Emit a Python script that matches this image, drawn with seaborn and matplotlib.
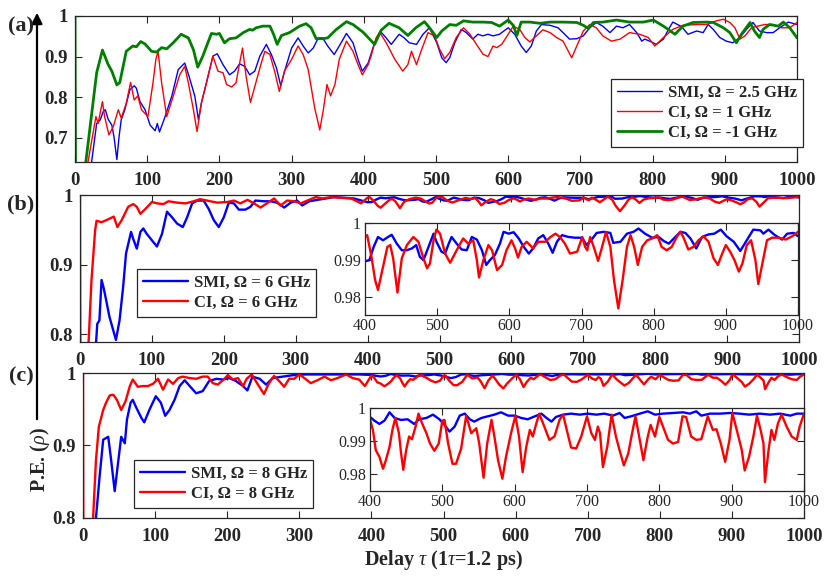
import numpy as np
import pandas as pd
import seaborn as sns
import matplotlib.pyplot as plt
from matplotlib.patches import FancyArrowPatch

# ---- panel (a) ----
a_green_t = [0, 1, 15, 30, 38, 46, 51, 58, 62, 71, 80, 85, 91, 97, 106, 113, 120, 127, 136, 147,
             157, 164, 170, 177, 184, 189, 196, 200, 207, 214, 223, 233, 242, 246, 251, 260, 270, 275, 280, 286,
             297, 311, 320, 327, 334, 343, 350, 362, 376, 385, 399, 415, 424, 435, 449, 461, 472, 484,
             491, 501, 508, 519, 528, 538, 551, 565, 577, 588, 600, 607, 612, 618, 630, 644, 658, 676, 695, 704,
             711, 718, 731, 750, 768, 787, 801, 815, 831, 842, 856, 875, 884, 898, 907, 916, 923, 935, 941, 948,
             953, 962, 974, 981, 990, 1000]
a_green = [1.0, 0.5, 0.64, 0.86, 0.916, 0.88, 0.864, 0.83, 0.836, 0.913, 0.926, 0.924, 0.937, 0.931, 0.913, 0.911, 0.922, 0.919, 0.934, 0.955,
           0.946, 0.917, 0.874, 0.901, 0.934, 0.957, 0.955, 0.957, 0.934, 0.944, 0.946, 0.959, 0.967, 0.965, 0.971, 0.975, 0.975, 0.955, 0.930, 0.952,
           0.959, 0.975, 0.981, 0.971, 0.944, 0.944, 0.946, 0.967, 0.986, 0.979, 0.960, 0.930, 0.965, 0.982, 0.971, 0.952, 0.971, 0.986,
           0.971, 0.947, 0.963, 0.979, 0.977, 0.988, 0.985, 0.985, 0.984, 0.975, 0.990, 0.977, 0.952, 0.985, 0.985, 0.982, 0.985, 0.985, 0.984, 0.977,
           0.969, 0.984, 0.985, 0.990, 0.985, 0.985, 0.990, 0.975, 0.955, 0.975, 0.984, 0.985, 0.984, 0.971, 0.959, 0.934, 0.955, 0.984, 0.963, 0.947,
           0.967, 0.979, 0.975, 0.985, 0.971, 0.946]

a_blue_t = [0, 23, 30, 35, 39, 42, 46, 51, 54, 58, 61, 64, 69, 76, 82, 85, 90, 97, 104, 111,
            114, 117, 124, 134, 143, 152, 158, 166, 171, 175, 182, 191, 197, 205, 214, 221, 228, 235, 242, 249,
            256, 265, 272, 279, 285, 291, 300, 309, 316, 323, 330, 337, 343, 350, 359, 366, 376, 385, 393, 398,
            406, 415, 424, 431, 438, 449, 456, 463, 473, 482,
            491, 501, 508, 514, 519, 526, 535, 542, 551, 558, 565, 572, 579, 588, 600, 609, 618, 625, 632, 639,
            646, 658, 669, 676, 685, 695, 704, 713, 722, 731, 741, 750, 759, 768, 778, 785, 789, 796, 805, 815,
            822, 828, 840, 849, 861, 870, 877, 884, 893, 902, 911, 921, 930, 939, 948, 958, 967, 976, 988, 1000]
a_blue = [0.4, 0.64, 0.735, 0.744, 0.764, 0.769, 0.745, 0.731, 0.702, 0.646, 0.702, 0.744, 0.769, 0.818, 0.828, 0.822, 0.789, 0.769, 0.731, 0.717,
          0.735, 0.714, 0.748, 0.802, 0.868, 0.884, 0.851, 0.802, 0.744, 0.785, 0.835, 0.901, 0.907, 0.880, 0.855, 0.864, 0.882, 0.876, 0.855, 0.864,
          0.901, 0.930, 0.905, 0.872, 0.828, 0.868, 0.921, 0.946, 0.926, 0.909, 0.921, 0.946, 0.946, 0.926, 0.905, 0.926, 0.957, 0.934, 0.888, 0.864,
          0.884, 0.934, 0.960, 0.946, 0.930, 0.955, 0.946, 0.934, 0.930, 0.955,
          0.971, 0.934, 0.897, 0.885, 0.897, 0.934, 0.967, 0.959, 0.943, 0.955, 0.951, 0.955, 0.951, 0.955, 0.971, 0.955, 0.926, 0.910, 0.926, 0.963,
          0.979, 0.977, 0.971, 0.959, 0.943, 0.944, 0.951, 0.971, 0.984, 0.975, 0.959, 0.975, 0.971, 0.979, 0.959, 0.938, 0.943, 0.938, 0.930, 0.943,
          0.967, 0.985, 0.974, 0.955, 0.963, 0.959, 0.979, 0.967, 0.947, 0.938, 0.934, 0.947, 0.967, 0.984, 0.963, 0.959, 0.959, 0.971, 0.985, 0.979]

a_red_t = [0, 18, 29, 32, 38, 41, 47, 53, 60, 64, 71, 77, 82, 87, 92, 101, 108, 112, 115, 120,
           127, 136, 145, 152, 157, 164, 169, 175, 182, 191, 198, 205, 210, 217, 223, 228, 232, 237, 243, 251,
           258, 263, 270, 277, 283, 290, 300, 309, 316, 323, 332, 339, 344, 349, 354, 360, 366, 376, 385, 392,
           398, 406, 410, 417, 422, 431, 443, 454, 461, 466, 473, 480, 489,
           498, 505, 512, 519, 528, 538, 547, 556, 565, 572, 579, 584, 591, 600, 607, 616, 623, 630, 639, 648,
           658, 667, 676, 683, 688, 695, 704, 713, 722, 731, 743, 755, 768, 782, 794, 803, 815, 828, 842, 861,
           875, 888, 898, 907, 914, 921, 928, 937, 946, 955, 967, 978, 990, 1000]
a_red = [0.4, 0.64, 0.752, 0.735, 0.789, 0.752, 0.707, 0.727, 0.769, 0.748, 0.785, 0.836, 0.793, 0.803, 0.769, 0.752, 0.835, 0.893, 0.913, 0.835,
         0.752, 0.802, 0.855, 0.876, 0.835, 0.769, 0.715, 0.785, 0.835, 0.901, 0.864, 0.860, 0.831, 0.825, 0.835, 0.884, 0.921, 0.851, 0.787, 0.839,
         0.884, 0.913, 0.905, 0.860, 0.814, 0.864, 0.893, 0.926, 0.905, 0.868, 0.773, 0.719, 0.769, 0.831, 0.803, 0.831, 0.893, 0.938, 0.913, 0.880,
         0.855, 0.880, 0.901, 0.946, 0.960, 0.934, 0.893, 0.864, 0.880, 0.913, 0.880, 0.917, 0.959,
         0.951, 0.918, 0.895, 0.910, 0.947, 0.971, 0.955, 0.930, 0.906, 0.900, 0.926, 0.922, 0.930, 0.955, 0.975, 0.967, 0.947, 0.936, 0.951, 0.966,
         0.959, 0.947, 0.938, 0.914, 0.897, 0.926, 0.963, 0.979, 0.971, 0.951, 0.938, 0.943, 0.959, 0.955, 0.947, 0.926, 0.947, 0.967, 0.977, 0.979,
         0.979, 0.988, 0.992, 0.984, 0.971, 0.943, 0.951, 0.971, 0.975, 0.979, 0.979, 0.971, 0.971, 0.984]

# ---- panel (b) ----
b_red_t = [0, 1, 12, 16, 21, 23, 30, 37, 47, 52, 58, 67, 74, 79, 84, 91, 100, 107, 116, 123,
           135, 147, 158, 167, 181, 191, 205, 214, 223, 233, 242, 251, 260, 270, 279, 288, 298, 307, 316, 328,
           337, 349, 363, 377, 391,
           400, 403, 409, 414, 418, 425, 431, 435, 439, 445, 451, 458, 467, 474, 481, 486, 490, 495, 499, 504,
           511, 518, 527, 536, 543, 550, 555, 558, 564, 571, 576, 583, 590, 596, 603, 608, 612, 617, 624, 633,
           640, 650, 657, 664, 670, 677, 684, 694, 701, 705, 708, 712, 717, 723, 728, 734, 740, 745, 751, 757,
           763, 768, 773, 778, 784, 791, 798, 805, 811, 818, 825, 832, 837, 841, 848, 855, 862, 869, 876, 883,
           889, 895, 900, 906, 912, 918, 923, 929, 935, 941, 945, 952, 957, 964, 973, 983, 992, 1000]
b_red = [1.0, 0.5, 0.79, 0.878, 0.949, 0.963, 0.961, 0.964, 0.969, 0.954, 0.964, 0.983, 0.987, 0.983, 0.973, 0.980, 0.990, 0.988, 0.987, 0.991,
         0.989, 0.988, 0.991, 0.994, 0.991, 0.989, 0.990, 0.992, 0.988, 0.993, 0.988, 0.982, 0.988, 0.995, 0.985, 0.992, 0.991, 0.988, 0.992, 0.997,
         0.995, 0.997, 0.996, 0.995, 0.988,
         0.9962, 0.9967, 0.9908, 0.9845, 0.9818, 0.9881, 0.9935, 0.9940, 0.9904, 0.9811, 0.9904, 0.9940, 0.9962, 0.9949, 0.9904, 0.9877, 0.9890, 0.9953, 0.9982, 0.9971,
         0.9917, 0.9892, 0.9926, 0.9958, 0.9944, 0.9953, 0.9899, 0.9852, 0.9899, 0.9940, 0.9926, 0.9872, 0.9886, 0.9926, 0.9953, 0.9931, 0.9906, 0.9935, 0.9949, 0.9931,
         0.9949, 0.9949, 0.9962, 0.9971, 0.9962, 0.9944, 0.9917, 0.9922, 0.9962, 0.9935, 0.9926, 0.9962, 0.9935, 0.9897, 0.9931, 0.9976, 0.9935, 0.9845, 0.9768, 0.9845,
         0.9935, 0.9967, 0.9935, 0.9886, 0.9935, 0.9953, 0.9958, 0.9967, 0.9935, 0.9926, 0.9935, 0.9962, 0.9976, 0.9962, 0.9928, 0.9935, 0.9953, 0.9964, 0.9949, 0.9904,
         0.9886, 0.9917, 0.9940, 0.9922, 0.9899, 0.9868, 0.9890, 0.9940, 0.9953, 0.9899, 0.9834, 0.9904, 0.9953, 0.9960, 0.9960, 0.9955, 0.9964, 0.9976]

b_blue_t = [0, 20, 24, 27, 30, 33, 36, 41, 47, 50, 55, 60, 64, 71, 74, 79, 84, 88, 93, 100,
            107, 114, 121, 128, 135, 143, 149, 156, 163, 172, 179, 186, 193, 200, 207, 214, 221, 230, 237, 244,
            256, 265, 274, 284, 293, 302, 309, 319, 330, 342, 353, 367, 381,
            400, 406, 412, 418, 425, 432, 437, 444, 451, 458, 465, 471, 476, 481, 488, 495, 499, 506, 511, 516,
            520, 527, 534, 541, 548, 555, 562, 568, 573, 580, 587, 592, 599, 606, 613, 620, 627, 633, 640, 647,
            654, 660, 666, 673, 682, 691, 701, 707, 714, 721, 731, 740, 744, 754, 763, 772, 779, 788, 798, 807,
            814, 821, 828, 837, 844, 851, 859, 867, 876, 884, 893, 901, 911, 920, 929, 938, 948, 952, 959, 968,
            978, 985, 994, 1000]
b_blue = [0.4, 0.75, 0.815, 0.820, 0.878, 0.866, 0.851, 0.825, 0.803, 0.792, 0.820, 0.868, 0.916, 0.947, 0.937, 0.923, 0.947, 0.952, 0.944, 0.935,
          0.926, 0.944, 0.976, 0.968, 0.959, 0.954, 0.968, 0.988, 0.992, 0.992, 0.980, 0.964, 0.954, 0.968, 0.989, 0.988, 0.979, 0.979, 0.983, 0.992,
          0.991, 0.991, 0.989, 0.982, 0.989, 0.992, 0.985, 0.991, 0.993, 0.995, 0.997, 0.996, 0.995,
          0.9896, 0.9899, 0.9935, 0.9962, 0.9953, 0.9962, 0.9968, 0.9944, 0.9926, 0.9926, 0.9931, 0.9940, 0.9908, 0.9899, 0.9935, 0.9971, 0.9949, 0.9922, 0.9917, 0.9944,
          0.9962, 0.9944, 0.9928, 0.9926, 0.9962, 0.9955, 0.9926, 0.9886, 0.9899, 0.9913, 0.9944, 0.9976, 0.9971, 0.9975, 0.9958, 0.9935, 0.9917, 0.9931, 0.9958, 0.9967,
          0.9944, 0.9919, 0.9949, 0.9967, 0.9962, 0.9960, 0.9960, 0.9940, 0.9955, 0.9973, 0.9976, 0.9973, 0.9946, 0.9949, 0.9971, 0.9976, 0.9985, 0.9971, 0.9960, 0.9962,
          0.9951, 0.9944, 0.9958, 0.9976, 0.9973, 0.9958, 0.9931, 0.9962, 0.9969, 0.9971, 0.9982, 0.9964, 0.9949, 0.9924, 0.9953, 0.9982, 0.9980, 0.9971, 0.9982, 0.9967,
          0.9955, 0.9971, 0.9973, 0.9964]

# ---- panel (c) ----
c_red_t = [0, 1, 14, 18, 22, 28, 32, 37, 42, 47, 53, 59, 65, 69, 76, 83, 90, 97, 104, 111,
           118, 125, 132, 138, 148, 157, 166, 173, 180, 187, 194, 201, 208, 215, 222, 227, 234, 242, 251, 258,
           265, 272, 279, 286, 293, 300, 307, 316, 325, 335, 344, 353, 365, 374, 383, 391,
           400, 404, 408, 413, 418, 422, 427, 431, 435, 440, 443, 446, 450, 454, 458, 463, 467, 472, 478, 483,
           489, 495, 500, 503, 508, 514, 519, 526, 533, 540, 547, 551, 557, 562, 568, 572, 577, 583, 588, 595,
           601, 606, 611, 616, 621, 625, 630, 634, 641, 648, 655, 662, 667, 672, 678, 685, 692, 700, 706, 711,
           715, 718, 722, 728, 734, 740, 745, 751, 757, 761, 767, 773, 778, 784, 788, 794, 800, 805, 812, 819,
           826, 832, 837, 844, 851, 858, 867, 874, 879, 885, 891, 897, 901, 907, 914, 918, 924, 930, 935, 940,
           944, 946, 951, 955, 959, 964, 969, 976, 983, 990, 994, 1000]
c_red = [1.0, 0.5, 0.80, 0.880, 0.926, 0.949, 0.959, 0.969, 0.970, 0.963, 0.949, 0.961, 0.982, 0.991, 0.981, 0.982, 0.982, 0.985, 0.992, 0.977,
         0.991, 0.985, 0.993, 0.995, 0.993, 0.992, 0.995, 0.995, 0.986, 0.984, 0.990, 0.997, 0.991, 0.993, 0.982, 0.992, 0.998, 0.985, 0.971, 0.986,
         0.996, 0.989, 0.981, 0.992, 0.992, 0.998, 0.993, 0.986, 0.990, 0.995, 0.990, 0.993, 0.998, 0.993, 0.991, 0.982,
         0.9966, 0.9934, 0.9873, 0.9853, 0.9817, 0.9843, 0.9883, 0.9934, 0.9970, 0.9924, 0.9863, 0.9814, 0.9873, 0.9914, 0.9906, 0.9944, 0.9983, 0.9954, 0.9924, 0.9893,
         0.9871, 0.9893, 0.9962, 0.9964, 0.9893, 0.9832, 0.9832, 0.9878, 0.9977, 0.9924, 0.9939, 0.9893, 0.9790, 0.9893, 0.9964, 0.9914, 0.9843, 0.9787, 0.9853, 0.9924,
         0.9977, 0.9914, 0.9807, 0.9883, 0.9934, 0.9914, 0.9954, 0.9983, 0.9944, 0.9904, 0.9914, 0.9964, 0.9980, 0.9934, 0.9881, 0.9878, 0.9914, 0.9975, 0.9924, 0.9904,
         0.9944, 0.9924, 0.9822, 0.9883, 0.9980, 0.9914, 0.9873, 0.9827, 0.9863, 0.9909, 0.9975, 0.9904, 0.9843, 0.9914, 0.9949, 0.9914, 0.9973, 0.9944, 0.9904, 0.9893,
         0.9898, 0.9975, 0.9973, 0.9914, 0.9904, 0.9906, 0.9975, 0.9934, 0.9936, 0.9893, 0.9838, 0.9904, 0.9985, 0.9934, 0.9873, 0.9812, 0.9853, 0.9914, 0.9977, 0.9934,
         0.9893, 0.9777, 0.9873, 0.9934, 0.9904, 0.9954, 0.9980, 0.9944, 0.9914, 0.9904, 0.9944, 0.9983]

c_blue_t = [0, 18, 23, 28, 35, 39, 44, 48, 53, 58, 61, 66, 69, 74, 81, 85, 92, 101, 108, 114,
            120, 127, 134, 141, 148, 157, 166, 175, 185, 194, 203, 212, 222, 228, 235, 245, 254, 263, 277, 291,
            309, 328, 346, 365, 383,
            400, 406, 413, 420, 427, 434, 443, 452, 461, 468, 478, 487, 496, 503, 510, 517, 524, 531, 538, 544,
            554, 563, 572, 581, 591, 600, 609, 618, 628, 637, 644, 651, 657, 667, 678, 690, 701, 713, 724, 736,
            745, 752, 761, 773, 784, 794, 805, 819, 833, 842, 851, 858, 870, 884, 898, 911, 924, 939, 953, 967,
            981, 990, 1000]
c_blue = [0.4, 0.80, 0.857, 0.908, 0.912, 0.880, 0.837, 0.871, 0.912, 0.903, 0.936, 0.959, 0.963, 0.952, 0.938, 0.932, 0.949, 0.968, 0.959, 0.941,
          0.949, 0.963, 0.982, 0.990, 0.982, 0.972, 0.975, 0.989, 0.992, 0.991, 0.993, 0.989, 0.982, 0.976, 0.995, 0.992, 0.984, 0.993, 0.995, 0.997,
          0.998, 0.998, 0.998, 0.998, 0.998,
          0.9973, 0.9962, 0.9952, 0.9962, 0.9987, 0.9970, 0.9964, 0.9966, 0.9952, 0.9966, 0.9970, 0.9980, 0.9966, 0.9949, 0.9929, 0.9944, 0.9977, 0.9983, 0.9966, 0.9959,
          0.9970, 0.9975, 0.9980, 0.9987, 0.9977, 0.9977, 0.9970, 0.9966, 0.9975, 0.9983, 0.9970, 0.9959, 0.9973, 0.9980, 0.9983, 0.9980, 0.9983, 0.9980, 0.9983, 0.9977,
          0.9985, 0.9970, 0.9975, 0.9983, 0.9990, 0.9980, 0.9983, 0.9985, 0.9987, 0.9983, 0.9990, 0.9977, 0.9983, 0.9983, 0.9985, 0.9983, 0.9980, 0.9983, 0.9980, 0.9983,
          0.9977, 0.9983, 0.9983]

main_xticks = list(range(0, 1001, 100))
inset_xticks = list(range(400, 1001, 100))

# plot settings
sns.set_style('ticks')
plt.rcParams['font.family'] = ['Liberation Serif', 'DejaVu Serif']
plt.rcParams['mathtext.fontset'] = 'custom'
plt.rcParams['mathtext.rm'] = 'Liberation Serif:bold'
plt.rcParams['mathtext.it'] = 'Liberation Serif:italic'
plt.rcParams['axes.edgecolor'] = '#262626'
plt.rcParams['axes.linewidth'] = 0.9
plt.rcParams['lines.solid_joinstyle'] = 'round'

AXC = '#262626'
BLUE, RED, GREEN = '#0000ff', '#ff0000', '#008000'


def line(ax, t, v, color, lw, label=None):
    sns.lineplot(x=t, y=v, ax=ax, color=color, linewidth=lw, label=label,
                 errorbar=None, legend=label is not None)


def style(ax, xticks, yticks, ylim, size, weight, xpad, ypad):
    ax.set_xlim(xticks[0], xticks[-1])
    ax.set_ylim(*ylim)
    ax.set_xticks(xticks, [f'{x:g}' for x in xticks], fontsize=size, fontweight=weight, color=AXC)
    ax.set_yticks(yticks, [f'{y:g}' for y in yticks], fontsize=size, fontweight=weight, color=AXC)
    ax.tick_params(axis='both', direction='in', top=True, right=True, length=5,
                   width=0.8, color=AXC)
    ax.tick_params(axis='x', pad=xpad)
    ax.tick_params(axis='y', pad=ypad)
    ax.set_xlabel('')
    ax.set_ylabel('')
    for s in ax.spines.values():
        s.set_visible(True)
        s.set_color(AXC)


def legend(ax, anchor, fig):
    h, l = ax.get_legend_handles_labels()
    lg = ax.legend(h, l, loc='upper left', bbox_to_anchor=anchor, bbox_transform=fig.transFigure,
                   fancybox=False, framealpha=1, edgecolor=AXC, borderaxespad=0,
                   handlelength=2.7, handletextpad=0.35, labelspacing=0.25, borderpad=0.35,
                   prop={'weight': 'bold', 'size': 12})
    lg.get_frame().set_linewidth(0.9)


fig = plt.figure(figsize=(8.3, 5.78), dpi=100)
W, H = 830.0, 578.0


def box(l, t, r, b):
    return [l / W, 1 - b / H, (r - l) / W, (b - t) / H]


ax_a = fig.add_axes(box(75, 16, 797, 162))
ax_b = fig.add_axes(box(80, 195, 799, 342))
ax_c = fig.add_axes(box(83, 373, 804, 518))
in_b = fig.add_axes(box(365, 223, 798, 315))
in_c = fig.add_axes(box(370, 408, 804, 491))

# (a)
line(ax_a, a_blue_t, a_blue, BLUE, 1.0, 'SMI, Ω = 2.5 GHz')
line(ax_a, a_red_t, a_red, RED, 1.0, 'CI, Ω = 1 GHz')
line(ax_a, a_green_t, a_green, GREEN, 2.0, 'CI, Ω = -1 GHz')
style(ax_a, main_xticks, [0.7, 0.8, 0.9, 1.0], (0.64, 1.0), 13.5, 'bold', 7, 5)
legend(ax_a, (611 / W, 1 - 79 / H), fig)

# (b)
line(ax_b, b_blue_t, b_blue, BLUE, 1.7, 'SMI, Ω = 6 GHz')
line(ax_b, b_red_t, b_red, RED, 1.7, 'CI, Ω = 6 GHz')
style(ax_b, main_xticks, [0.8, 0.9, 1.0], (0.789, 1.0), 13.5, 'bold', 7, 5)
legend(ax_b, (137 / W, 1 - 269 / H), fig)

line(in_b, b_blue_t, b_blue, BLUE, 1.7)
line(in_b, b_red_t, b_red, RED, 1.7)
style(in_b, inset_xticks, [0.98, 0.99, 1.0], (0.975, 1.0), 11.5, 'normal', 2, 3)

# (c)
line(ax_c, c_blue_t, c_blue, BLUE, 1.7, 'SMI, Ω = 8 GHz')
line(ax_c, c_red_t, c_red, RED, 1.7, 'CI, Ω = 8 GHz')
style(ax_c, main_xticks, [0.8, 0.9, 1.0], (0.8, 1.0), 13.5, 'bold', 7, 5)
legend(ax_c, (134 / W, 1 - 460 / H), fig)

line(in_c, c_blue_t, c_blue, BLUE, 1.7)
line(in_c, c_red_t, c_red, RED, 1.7)
style(in_c, inset_xticks, [0.98, 0.99, 1.0], (0.975, 1.0), 11.5, 'normal', 2, 3)

# panel letters, arrow and axis labels
for lab, y in [('(a)', 26), ('(b)', 204), ('(c)', 376)]:
    fig.text(21 / W, 1 - y / H, lab, ha='center', va='center', fontsize=16, fontweight='bold')

arrow = FancyArrowPatch((37 / W, 1 - 422 / H), (37 / W, 1 - 10 / H), transform=fig.transFigure,
                        arrowstyle='-|>', mutation_scale=16, linewidth=1.6, color='black')
fig.add_artist(arrow)

fig.text(40 / W, 1 - 460 / H, r'P.E. ($\rho$)', rotation=90, ha='center', va='center',
         fontsize=14.5, fontweight='bold', color=AXC)
fig.text(443 / W, 1 - 560 / H, r'Delay $\tau$ (1$\tau$=1.2 ps)', ha='center', va='center',
         fontsize=14.5, fontweight='bold', color=AXC)

fig.savefig('out.png', dpi=100)
